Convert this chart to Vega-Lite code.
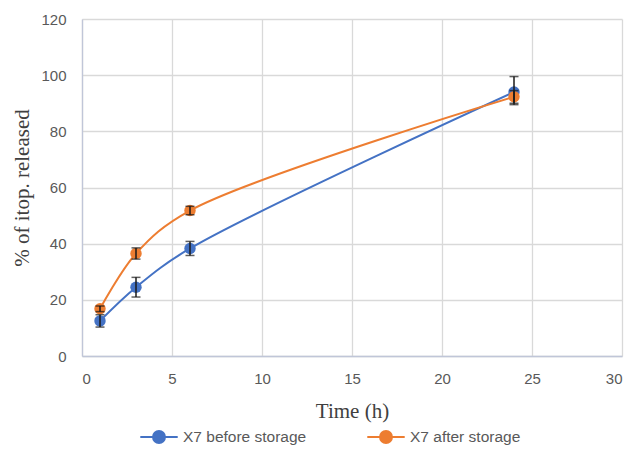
{
  "$schema": "https://vega.github.io/schema/vega-lite/v6.json",
  "width": 540,
  "height": 337,
  "autosize": "none",
  "padding": {"left": 82, "top": 19, "right": 10, "bottom": 93},
  "background": "white",
  "data": {
    "values": [
      {"series": "X7 before storage", "time": 1, "mean": 12.5, "lo": 10.3, "hi": 14.7},
      {"series": "X7 before storage", "time": 3, "mean": 24.5, "lo": 21.0, "hi": 28.0},
      {"series": "X7 before storage", "time": 6, "mean": 38.3, "lo": 35.8, "hi": 40.8},
      {"series": "X7 before storage", "time": 24, "mean": 94.0, "lo": 89.5, "hi": 99.5},
      {"series": "X7 after storage", "time": 1, "mean": 16.8, "lo": 15.8, "hi": 17.8},
      {"series": "X7 after storage", "time": 3, "mean": 36.5, "lo": 34.5, "hi": 38.5},
      {"series": "X7 after storage", "time": 6, "mean": 51.8, "lo": 50.3, "hi": 53.3},
      {"series": "X7 after storage", "time": 24, "mean": 92.3, "lo": 90.0, "hi": 94.5}
    ]
  },
  "config": {
    "view": {"stroke": null},
    "axis": {
      "labelFont": "Liberation Sans",
      "labelFontSize": 15,
      "labelColor": "#595959",
      "titleFont": "Liberation Serif",
      "titleFontSize": 21,
      "titleFontWeight": "normal",
      "titleColor": "#404040",
      "gridColor": "#d9d9d9",
      "gridWidth": 1.3,
      "domainColor": "#c0c6d8",
      "domainWidth": 1.3,
      "ticks": false
    }
  },
  "layer": [
    {
      "mark": {"type": "line", "interpolate": "catmull-rom", "strokeWidth": 2},
      "encoding": {
        "x": {
          "field": "time", "type": "quantitative",
          "scale": {"domain": [0, 30], "nice": false},
          "axis": {"values": [0, 5, 10, 15, 20, 25, 30], "title": "Time (h)", "labelPadding": 15, "titlePadding": 14}
        },
        "y": {
          "field": "mean", "type": "quantitative",
          "scale": {"domain": [0, 120], "nice": false},
          "axis": {"values": [0, 20, 40, 60, 80, 100, 120], "title": "% of itop. released", "labelPadding": 16, "titlePadding": 8}
        },
        "color": {
          "field": "series", "type": "nominal",
          "scale": {"domain": ["X7 before storage", "X7 after storage"], "range": ["#4472C4", "#ED7D31"]},
          "legend": {
            "title": null,
            "orient": "none",
            "direction": "horizontal",
            "legendX": 57,
            "legendY": 398,
            "labelFont": "Liberation Sans",
            "labelFontSize": 15.5,
            "labelColor": "#595959",
            "columnPadding": 56,
            "symbolType": "M -1 0 L 1 0 M -0.32 0 A 0.32 0.32 0 1 1 0.32 0 A 0.32 0.32 0 1 1 -0.32 0 Z",
            "symbolSize": 1400,
            "symbolStrokeWidth": 2,
            "labelOffset": 4,
            "encode": {"symbols": {"update": {"fill": {"scale": "color", "field": "value"}}}}
          }
        }
      }
    },
    {
      "mark": {"type": "point", "filled": true, "size": 130, "opacity": 1},
      "encoding": {
        "x": {"field": "time", "type": "quantitative"},
        "y": {"field": "mean", "type": "quantitative"},
        "color": {"field": "series", "type": "nominal", "legend": null}
      }
    },
    {
      "mark": {"type": "rule", "color": "#1a1a1a", "strokeWidth": 1.5},
      "encoding": {
        "x": {"field": "time", "type": "quantitative"},
        "y": {"field": "lo", "type": "quantitative"},
        "y2": {"field": "hi"}
      }
    },
    {
      "mark": {"type": "tick", "orient": "horizontal", "color": "#1a1a1a", "size": 9, "thickness": 1.5},
      "encoding": {
        "x": {"field": "time", "type": "quantitative"},
        "y": {"field": "lo", "type": "quantitative"}
      }
    },
    {
      "mark": {"type": "tick", "orient": "horizontal", "color": "#1a1a1a", "size": 9, "thickness": 1.5},
      "encoding": {
        "x": {"field": "time", "type": "quantitative"},
        "y": {"field": "hi", "type": "quantitative"}
      }
    }
  ]
}
